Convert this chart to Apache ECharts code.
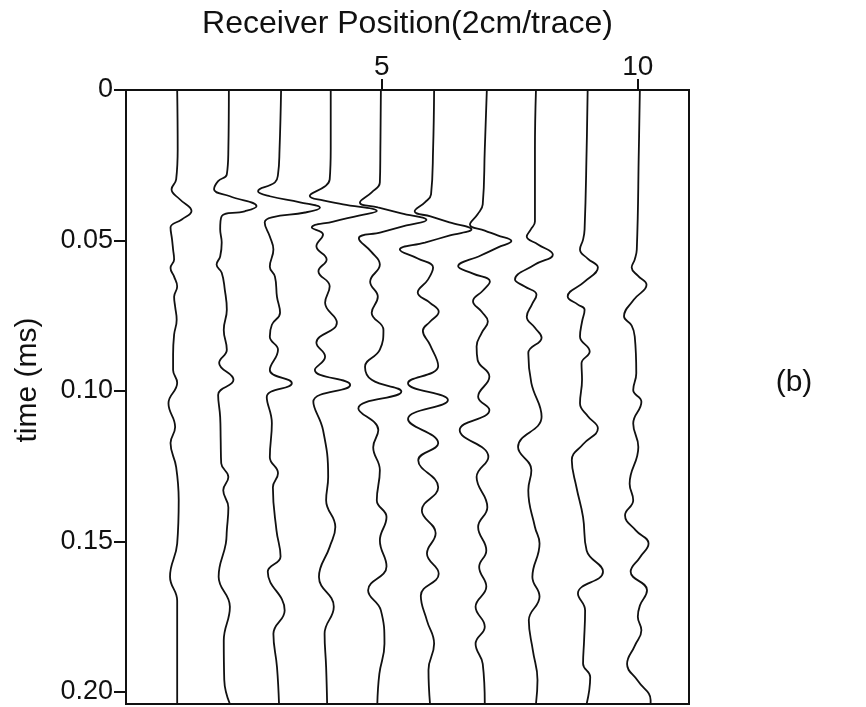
<!DOCTYPE html>
<html>
<head>
<meta charset="utf-8">
<script src="https://cdn.jsdelivr.net/npm/echarts@6/dist/echarts.min.js"></script>
<style>
  html, body { margin: 0; padding: 0; background: #fff; }
  #chart { width: 866px; height: 707px; }
</style>
</head>
<body>
<div id="chart"></div>
<script>
// Receiver numbers (trace offsets along the x axis, 2 cm apart)
const receivers = [1, 2, 3, 4, 5, 6, 7, 8, 9, 10];
// Axis tick labels
const positionTicks = [5, 10];
const timeTicks = [0, 0.05, 0.10, 0.15, 0.20];

// Each trace: [time (ms), amplitude in trace-spacing units]
const trace1 = [[0,0],[0.0197,0.01],[0.0297,-0.02],[0.0330,-0.11],[0.0363,0.05],[0.0402,0.28],[0.0430,0.09],[0.0457,-0.13],[0.0497,-0.10],[0.0530,-0.08],[0.0563,-0.06],[0.0591,-0.13],[0.0620,-0.06],[0.0653,0.00],[0.0687,-0.06],[0.0720,-0.04],[0.0763,-0.01],[0.0813,-0.06],[0.0880,-0.08],[0.0930,-0.08],[0.0973,0.00],[0.1041,-0.17],[0.1120,-0.04],[0.1173,-0.13],[0.1253,-0.02],[0.1363,0.03],[0.1507,0.00],[0.1617,-0.14],[0.1697,0.00],[0.1807,0.00],[0.204,0.00]];
const trace2 = [[0,0.01],[0.0197,0.00],[0.0280,-0.03],[0.0303,-0.20],[0.0330,-0.28],[0.0353,0.03],[0.0386,0.55],[0.0403,0.32],[0.0419,-0.13],[0.0463,-0.16],[0.0507,-0.13],[0.0553,-0.16],[0.0580,-0.23],[0.0607,-0.13],[0.0663,-0.07],[0.0730,-0.03],[0.0797,-0.09],[0.0863,-0.03],[0.0907,-0.18],[0.0963,0.10],[0.1013,-0.20],[0.1087,-0.16],[0.1163,-0.15],[0.1240,-0.14],[0.1286,0.00],[0.1330,-0.10],[0.1387,0.00],[0.1463,-0.03],[0.1507,-0.05],[0.1617,-0.19],[0.1717,0.03],[0.1830,-0.09],[0.1960,-0.08],[0.204,0.03]];
const trace3 = [[0,0.03],[0.0197,0.00],[0.0280,-0.03],[0.0307,-0.09],[0.0336,-0.42],[0.0353,-0.19],[0.0373,0.40],[0.0391,0.79],[0.0407,0.50],[0.0423,-0.15],[0.0440,-0.29],[0.0487,-0.19],[0.0530,-0.12],[0.0587,-0.19],[0.0620,-0.09],[0.0687,-0.05],[0.0740,0.01],[0.0780,-0.15],[0.0820,-0.19],[0.0863,-0.03],[0.0930,-0.19],[0.0974,0.24],[0.1020,-0.25],[0.1107,-0.15],[0.1220,-0.19],[0.1273,-0.03],[0.1320,-0.13],[0.1463,-0.06],[0.1550,0.02],[0.1601,-0.23],[0.1729,0.10],[0.1807,-0.12],[0.1917,-0.05],[0.204,-0.01]];
const trace4 = [[0,0.00],[0.0197,0.00],[0.0297,-0.02],[0.0320,-0.11],[0.0352,-0.41],[0.0367,-0.15],[0.0380,0.24],[0.0402,0.90],[0.0417,0.55],[0.0437,0.05],[0.0457,-0.37],[0.0480,-0.15],[0.0519,-0.28],[0.0563,-0.08],[0.0602,-0.24],[0.0652,-0.02],[0.0707,-0.11],[0.0773,0.12],[0.0840,-0.28],[0.0886,-0.11],[0.0930,-0.31],[0.0980,0.38],[0.1036,-0.34],[0.1130,-0.15],[0.1286,-0.05],[0.1363,-0.09],[0.1452,0.09],[0.1518,-0.02],[0.1618,-0.23],[0.1717,0.06],[0.1807,-0.12],[0.1917,-0.09],[0.204,-0.07]];
const trace5 = [[0,-0.02],[0.0197,-0.03],[0.0307,-0.04],[0.0340,-0.20],[0.0374,-0.43],[0.0390,-0.08],[0.0410,0.38],[0.0432,0.87],[0.0450,0.48],[0.0473,-0.02],[0.0493,-0.45],[0.0537,-0.21],[0.0580,-0.04],[0.0637,-0.23],[0.0687,-0.08],[0.0740,-0.20],[0.0797,0.03],[0.0863,-0.04],[0.0920,-0.33],[0.0963,-0.20],[0.1002,0.38],[0.1058,-0.46],[0.1130,-0.07],[0.1187,-0.17],[0.1263,-0.04],[0.1363,-0.10],[0.1419,0.09],[0.1497,-0.04],[0.1583,0.09],[0.1662,-0.27],[0.1729,-0.02],[0.1840,0.05],[0.1940,-0.05],[0.204,-0.09]];
const trace6 = [[0,0.02],[0.0197,0.00],[0.0347,-0.04],[0.0373,-0.16],[0.0403,-0.36],[0.0420,-0.05],[0.0440,0.32],[0.0463,0.75],[0.0483,0.33],[0.0507,-0.16],[0.0530,-0.65],[0.0560,-0.30],[0.0590,0.00],[0.0630,-0.10],[0.0673,-0.30],[0.0707,-0.06],[0.0737,0.11],[0.0770,-0.06],[0.0800,-0.20],[0.0847,-0.06],[0.0917,0.10],[0.0974,-0.49],[0.1030,0.29],[0.1093,-0.49],[0.1174,0.10],[0.1230,-0.29],[0.1320,0.10],[0.1397,-0.22],[0.1473,0.05],[0.1540,-0.12],[0.1607,0.11],[0.1680,-0.24],[0.1763,-0.12],[0.1840,0.02],[0.1927,-0.09],[0.204,-0.06]];
const trace7 = [[0,0.05],[0.0197,0.01],[0.0380,-0.03],[0.0413,-0.13],[0.0447,-0.28],[0.0467,0.01],[0.0483,0.26],[0.0502,0.53],[0.0523,0.27],[0.0550,-0.07],[0.0586,-0.51],[0.0610,-0.22],[0.0636,0.11],[0.0667,-0.03],[0.0702,-0.22],[0.0737,-0.05],[0.0769,0.07],[0.0807,-0.05],[0.0852,-0.15],[0.0897,-0.13],[0.0952,0.10],[0.1019,-0.12],[0.1063,0.10],[0.1130,-0.48],[0.1219,0.08],[0.1286,-0.15],[0.1386,0.06],[0.1452,-0.12],[0.1530,0.04],[0.1585,-0.10],[0.1650,0.04],[0.1717,-0.17],[0.1783,0.01],[0.1840,-0.17],[0.1907,-0.03],[0.204,0.01]];
const trace8 = [[0,0.01],[0.0197,-0.01],[0.0437,-0.01],[0.0463,-0.09],[0.0487,-0.17],[0.0513,0.05],[0.0547,0.34],[0.0580,-0.01],[0.0630,-0.40],[0.0653,-0.21],[0.0680,0.02],[0.0713,-0.07],[0.0753,-0.17],[0.0790,-0.01],[0.0823,0.12],[0.0874,-0.14],[0.0974,-0.08],[0.1086,0.12],[0.1186,-0.34],[0.1263,-0.08],[0.1330,-0.14],[0.1452,-0.01],[0.1507,0.08],[0.1618,-0.06],[0.1683,0.08],[0.1762,-0.13],[0.1863,-0.05],[0.1960,0.04],[0.204,0.01]];
const trace9 = [[0,0.02],[0.0197,0.00],[0.0463,-0.04],[0.0497,-0.07],[0.0530,-0.13],[0.0560,0.02],[0.0590,0.22],[0.0637,-0.04],[0.0686,-0.37],[0.0713,-0.17],[0.0730,-0.04],[0.0770,-0.09],[0.0819,-0.13],[0.0869,0.06],[0.0908,-0.10],[0.0963,-0.09],[0.1041,-0.13],[0.1083,0.02],[0.1124,0.22],[0.1177,-0.07],[0.1230,-0.29],[0.1319,-0.20],[0.1419,-0.07],[0.1530,0.00],[0.1601,0.32],[0.1673,-0.17],[0.1729,-0.03],[0.1830,-0.05],[0.1906,-0.07],[0.1950,0.07],[0.204,0.00]];
const trace10 = [[0,0.04],[0.0197,0.02],[0.0530,-0.02],[0.0563,-0.06],[0.0590,-0.12],[0.0617,0.00],[0.0647,0.17],[0.0697,-0.08],[0.0752,-0.27],[0.0783,-0.12],[0.0819,-0.06],[0.0941,-0.03],[0.0997,-0.09],[0.1036,0.07],[0.1108,-0.09],[0.1186,0.01],[0.1308,-0.16],[0.1363,-0.09],[0.1413,-0.25],[0.1463,-0.04],[0.1507,0.21],[0.1553,0.04],[0.1601,-0.14],[0.1662,0.18],[0.1713,0.04],[0.1750,0.00],[0.1795,0.07],[0.1847,-0.06],[0.1907,-0.21],[0.1963,0.00],[0.2027,0.25],[0.204,0.25]];

const traces = [trace1, trace2, trace3, trace4, trace5, trace6, trace7, trace8, trace9, trace10];

const FONT = '"Liberation Sans", Arial, Helvetica, sans-serif';
const INK = '#111';

const chart = echarts.init(document.getElementById('chart'), null, { renderer: 'canvas' });

// One wiggle line per receiver, offset by its receiver number
const series = traces.map((tr, k) => ({
  type: 'line',
  name: 'Receiver ' + receivers[k],
  data: tr.map(([t, a]) => [receivers[k] + a, t]),
  smooth: 0.45,
  showSymbol: false,
  symbol: 'none',
  lineStyle: { color: INK, width: 1.8 },
  clip: true,
  silent: true
}));

chart.setOption({
  animation: false,
  backgroundColor: '#fff',
  textStyle: { fontFamily: FONT, color: INK },
  grid: {
    left: 126, right: 177, top: 90, bottom: 3,
    show: true, borderColor: INK, borderWidth: 2, backgroundColor: 'transparent'
  },
  xAxis: {
    type: 'value',
    position: 'top',
    min: 0, max: 11, interval: 5,
    name: 'Receiver Position(2cm/trace)',
    nameLocation: 'middle',
    nameGap: 50,
    nameTextStyle: { fontSize: 32, color: INK, fontFamily: FONT },
    axisLine: { show: true, lineStyle: { color: INK, width: 2 } },
    axisTick: { show: true, inside: false, length: 11, customValues: positionTicks, lineStyle: { color: INK, width: 2 } },
    axisLabel: { show: true, customValues: positionTicks, fontSize: 28, color: INK, fontFamily: FONT, margin: 9 },
    splitLine: { show: false }
  },
  yAxis: {
    type: 'value',
    inverse: true,
    min: 0, max: 0.204, interval: 0.05,
    axisLine: { show: true, lineStyle: { color: INK, width: 2 } },
    axisTick: { show: true, length: 12, customValues: timeTicks, lineStyle: { color: INK, width: 2 } },
    axisLabel: {
      show: true, customValues: timeTicks, fontSize: 27, color: INK, fontFamily: FONT, margin: 13,
      formatter: v => (v === 0 ? '0' : v.toFixed(2))
    },
    splitLine: { show: false }
  },
  graphic: [
    {
      type: 'text',
      x: 28, y: 380,
      rotation: Math.PI / 2,
      style: { text: 'time (ms)', font: '30px ' + FONT, fill: INK, textAlign: 'center', textVerticalAlign: 'middle' }
    },
    {
      type: 'text',
      x: 794, y: 383,
      style: { text: '(b)', font: '30px ' + FONT, fill: INK, textAlign: 'center', textVerticalAlign: 'middle' }
    }
  ],
  series: series
});
</script>
</body>
</html>
